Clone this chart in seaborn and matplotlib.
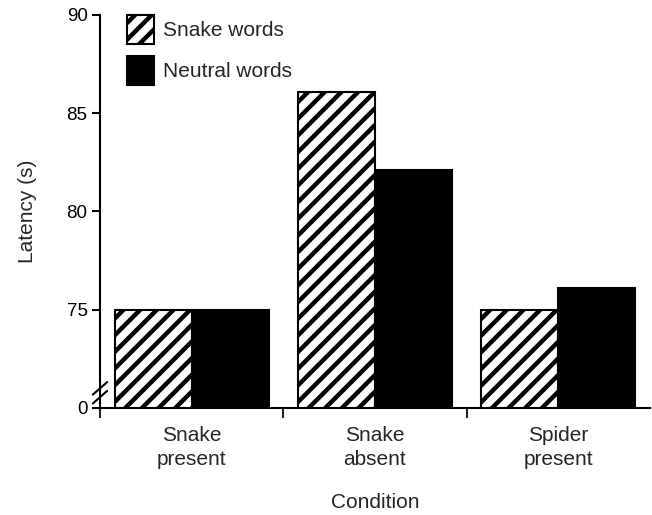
import matplotlib
matplotlib.use("Agg")
import matplotlib.pyplot as plt
import seaborn as sns
import pandas as pd
from matplotlib.patches import Patch

conditions = ["Snake\npresent", "Snake\nabsent", "Spider\npresent"]
snake_words = [75.0, 86.1, 75.0]
neutral_words = [75.0, 82.1, 76.1]
series_names = ["Snake words", "Neutral words"]
ytick_values = [70, 75, 80, 85, 90]
ytick_labels = ["0", "75", "80", "85", "90"]

df = pd.DataFrame({
    "Condition": conditions * 2,
    "Latency": snake_words + neutral_words,
    "Words": [series_names[0]] * 3 + [series_names[1]] * 3,
})

sns.set_theme(style="white")
plt.rcParams["font.family"] = ["Liberation Sans", "DejaVu Sans"]
plt.rcParams["hatch.linewidth"] = 3.2
plt.rcParams["hatch.color"] = "black"

FS = 15

fig = plt.figure(figsize=(6.52, 5.15), dpi=100)
ax = fig.add_axes([100 / 652, 1 - 408 / 515, 550 / 652, (408 - 15) / 515])

sns.barplot(data=df, x="Condition", y="Latency", hue="Words",
            hue_order=series_names, order=conditions,
            palette=["white", "black"], width=0.84, legend=False,
            edgecolor="black", linewidth=1.5, saturation=1, ax=ax)

for bar in ax.containers[0]:
    bar.set_facecolor("white")
    bar.set_hatch("//")
    bar.set_edgecolor("black")
for bar in ax.containers[1]:
    bar.set_facecolor("black")
    bar.set_edgecolor("black")

ax.set_xlim(-0.5, 2.5)
ax.set_ylim(70, 90)
ax.set_yticks(ytick_values)
ax.set_yticklabels(ytick_labels)
ax.tick_params(axis="y", direction="out", length=6, width=1.5, pad=3,
               labelsize=13.5, left=True, colors="black")
ax.tick_params(axis="x", which="major", length=0, pad=13, labelsize=FS)
for lab in ax.get_xticklabels():
    lab.set_linespacing(1.35)
ax.set_xticks([-0.5, 0.5, 1.5], minor=True)
ax.tick_params(axis="x", which="minor", direction="out", length=7, width=1.5,
               bottom=True)

for s in ["top", "right"]:
    ax.spines[s].set_visible(False)
for s in ["left", "bottom"]:
    ax.spines[s].set_linewidth(1.5)
    ax.spines[s].set_color("black")

ax.set_ylabel("Latency (s)", fontsize=FS, labelpad=21)
ax.set_xlabel("Condition", fontsize=FS, labelpad=17)

# axis break marks
trans = ax.get_yaxis_transform()
for yb in [70.55, 71.0]:
    ax.plot([-0.013, 0.013], [yb - 0.32, yb + 0.32], transform=trans,
            color="black", lw=1.5, clip_on=False, zorder=5)

handles = [
    Patch(facecolor="white", edgecolor="black", hatch="//", linewidth=1.5,
          label=series_names[0]),
    Patch(facecolor="black", edgecolor="black", linewidth=1.5,
          label=series_names[1]),
]
ax.legend(handles=handles, loc="upper left", bbox_to_anchor=(27 / 550, 1.0),
          frameon=False, fontsize=FS, handlelength=1.3, handleheight=1.75,
          handletextpad=0.45, labelspacing=0.6, borderaxespad=0, borderpad=0)

fig.savefig("out.png", dpi=100)
